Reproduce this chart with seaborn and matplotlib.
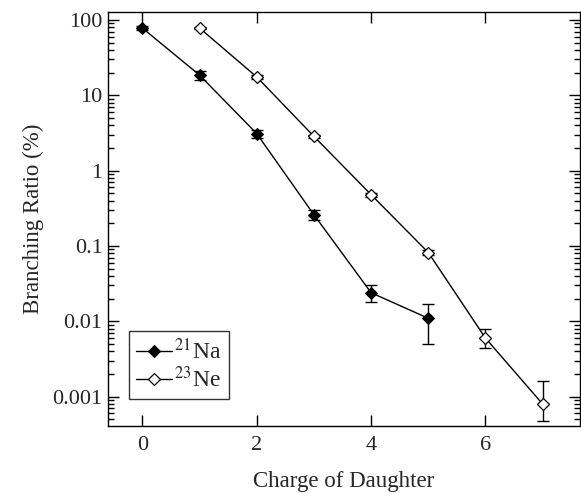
import numpy as np
import pandas as pd
import matplotlib
matplotlib.use("Agg")
import matplotlib.pyplot as plt
import matplotlib.ticker as mticker
import seaborn as sns

# data
na_charge = [0, 1, 2, 3, 4, 5]
na_ratio = [78, 18.5, 3.1, 0.26, 0.024, 0.011]
na_err_lo = [5, 2.5, 0.4, 0.04, 0.006, 0.006]
na_err_hi = [5, 2.5, 0.4, 0.04, 0.006, 0.006]

ne_charge = [1, 2, 3, 4, 5, 6, 7]
ne_ratio = [78, 17.5, 2.85, 0.48, 0.082, 0.006, 0.0008]
ne_err_lo = [3, 1.0, 0.15, 0.03, 0.006, 0.0015, 0.00032]
ne_err_hi = [3, 1.0, 0.15, 0.03, 0.006, 0.002, 0.0008]

sns.set_style("ticks")
plt.rcParams['font.family'] = ['Liberation Serif', 'DejaVu Serif']
plt.rcParams['mathtext.fontset'] = 'stix'

fig = plt.figure(figsize=(5.81, 4.93), dpi=100)
ax = fig.add_axes([0.186, 0.136, 0.812, 0.840])

na = pd.DataFrame({"charge": na_charge, "ratio": na_ratio})
ne = pd.DataFrame({"charge": ne_charge, "ratio": ne_ratio})

ax.errorbar(na_charge, na_ratio, yerr=[na_err_lo, na_err_hi], fmt='none',
            ecolor='black', elinewidth=1, capsize=4, capthick=1)
ax.errorbar(ne_charge, ne_ratio, yerr=[ne_err_lo, ne_err_hi], fmt='none',
            ecolor='black', elinewidth=1, capsize=4, capthick=1)

sns.lineplot(data=na, x="charge", y="ratio", ax=ax, color='black', lw=1,
             marker='D', markersize=6.5, markerfacecolor='black',
             markeredgecolor='black', label=r'$^{21}$Na')
sns.lineplot(data=ne, x="charge", y="ratio", ax=ax, color='black', lw=1,
             marker='D', markersize=6.5, markerfacecolor='white',
             markeredgecolor='black', markeredgewidth=0.9, label=r'$^{23}$Ne')

ax.set_yscale('log')
ax.set_xlim(-0.6, 7.65)
ax.set_ylim(4.1e-4, 128)
ax.set_xticks([0, 2, 4, 6])
ax.set_yticks([100, 10, 1, 0.1, 0.01, 0.001])
ax.set_yticklabels(['100', '10', '1', '0.1', '0.01', '0.001'])
ax.yaxis.set_minor_locator(mticker.LogLocator(base=10, subs=np.arange(2, 10)))
ax.yaxis.set_minor_formatter(mticker.NullFormatter())

ax.tick_params(which='both', direction='in', top=True, right=True,
               labelsize=16, color='black')
ax.tick_params(which='major', length=8, width=1)
ax.tick_params(which='minor', length=4, width=1)
ax.tick_params(axis='x', pad=7)
ax.tick_params(axis='y', pad=4)
for s in ax.spines.values():
    s.set_color('black')
    s.set_linewidth(1)

ax.set_xlabel("Charge of Daughter", fontsize=16.5, labelpad=12)
ax.set_ylabel("Branching Ratio (%)", fontsize=16.5, labelpad=6)

leg = ax.legend(loc='lower left', bbox_to_anchor=(0.045, 0.065), fontsize=17,
                frameon=True, fancybox=False, edgecolor='black',
                handlelength=1.5, handletextpad=0.1, borderpad=0.3,
                labelspacing=0.1, borderaxespad=0)
leg.get_frame().set_linewidth(1)

fig.savefig("out.png", dpi=100)
